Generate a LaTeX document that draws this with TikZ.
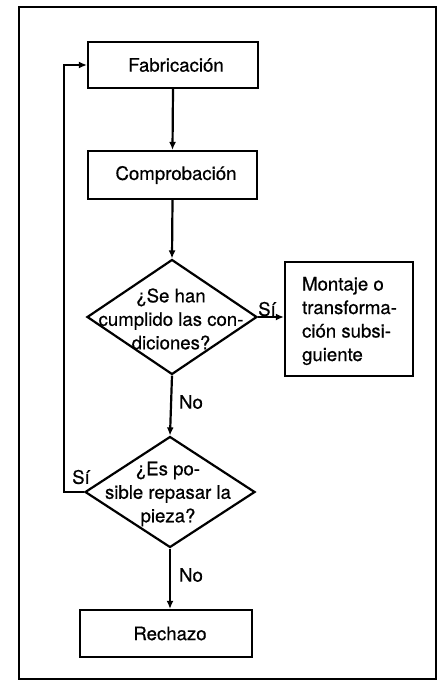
\documentclass[tikz,border=0pt]{standalone}
\usepackage{fontspec}
\setmainfont[FakeBold=0.6]{TeX Gyre Heros}
\usetikzlibrary{shapes.geometric,arrows.meta}
\begin{document}
\begin{tikzpicture}[x=1pt,y=-1pt,
  line width=2.2pt,
  box/.style={draw, rectangle, inner sep=0pt},
  dia/.style={draw, diamond, inner sep=0pt, minimum width=170pt},
  txt/.style={font=\fontsize{18.6}{23.5}\selectfont, align=center, inner sep=0pt},
  lbl/.style={font=\fontsize{18.6}{23.5}\selectfont, inner sep=0pt},
  arr/.style={-{Latex[length=8pt,width=7pt]}},
]
\useasboundingbox (0,0) rectangle (442,690);
\draw[line width=2pt] (18.5,7.5) rectangle (436,679);

\node[box, minimum width=170pt, minimum height=46pt] (fab) at (173,65) {};
\node[txt] (fabt) at (176,65) {Fabricación};
\node[box, minimum width=169pt, minimum height=48pt] (comp) at (172.5,175) {};
\node[txt] (compt) at (176,175) {Comprobación};

\node[dia, minimum height=115pt] (d1) at (172,317) {};
\node[txt] (d1t) at (171,319) {¿Se han\\cumplido las con-\\diciones?};

\node[box, minimum width=128pt, minimum height=114pt] (mont) at (349,319) {};
\node[txt, align=left, anchor=west] (montt) at (301,321) {Montaje o\\transforma-\\ción subsi-\\guiente};

\node[dia, minimum height=111pt] (d2) at (170,492) {};
\node[txt] (d2t) at (168,494) {¿Es po-\\sible repasar la\\pieza?};

\node[box, minimum width=172pt, minimum height=47pt] (rej) at (166,633.5) {};
\node[txt] (rejt) at (170,633.5) {Rechazo};

\draw[arr] (fab.south) -- (comp.north);
\draw[arr] (comp.south) -- (d1.north);
\draw[arr] (d1.east) -- (d1.east -| mont.west);
\draw[arr] (d1.south) -- (d2.north);
\draw[arr] (d2.south) -- (d2.south |- rej.north);
\draw[arr] (d2.west) -- ++(-20,0) |- (fab.west);

\node[lbl] (l1) at (267,309) {Sí};
\node[lbl] (l2) at (191,402) {No};
\node[lbl] (l3) at (81,477) {Sí};
\node[lbl] (l4) at (191,575) {No};
\end{tikzpicture}
\end{document}
